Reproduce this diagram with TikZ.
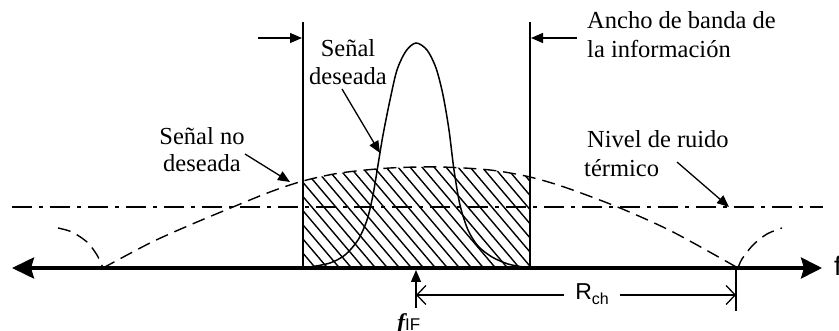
\documentclass[tikz,border=0pt]{standalone}
\usepackage{fontspec}
\setmainfont{Liberation Serif}
\setsansfont{Liberation Sans}
\usetikzlibrary{arrows.meta}
\begin{document}
\begin{tikzpicture}[x=1pt,y=-1pt,
  lbl/.style={inner sep=0pt,font=\fontsize{24.5}{28}\selectfont},
  ptr/.style={line width=1.3pt,-{Triangle[length=12pt,width=10pt]}},
  bandline/.style={line width=1.6pt},
  lobe/.style={line width=1.4pt,dash pattern=on 13pt off 7pt},
  noise/.style={line width=1.4pt,dash pattern=on 20pt off 7pt on 4pt off 7pt},
  hatchline/.style={line width=1.4pt},
  signal/.style={line width=1.5pt},
  dimarrow/.style={line width=1.3pt,-{Straight Barb[length=9pt,width=19pt]}},
  axisline/.style={line width=3.5pt,{Stealth[length=22pt,width=21pt,inset=3pt]}-{Stealth[length=21pt,width=21pt,inset=3pt]}},
]
\useasboundingbox (0,0) rectangle (839,331);

% hatched band under the unwanted signal
\begin{scope}
  \clip (303,100) rectangle (530,268);
  \clip plot[smooth] coordinates {(103,268) (150,243) (190,225) (233,207) (270,192) (303,181) (340,173) (390,168) (440,167) (490,170) (530,177) (567,188) (620,208) (673,232) (738,268)} -- cycle;
  \foreach \k in {0,...,30} \draw[hatchline] (200+12*\k,160) -- ++(100,118);
\end{scope}

% unwanted signal (dashed)
\draw[lobe] plot[smooth] coordinates {(103,268) (150,243) (190,225) (233,207) (270,192) (303,181) (340,173) (390,168) (440,167) (490,170) (530,177) (567,188) (620,208) (673,232) (738,268)};
\draw[lobe] plot[smooth] coordinates {(58,228) (72,232) (87,242) (97,255) (103,268)};
\draw[lobe] plot[smooth] coordinates {(738,268) (742,259) (753,245) (767,234) (782,228)};

% thermal noise level
\coordinate (nzL) at (12,207);
\coordinate (nzR) at (823,207);
\draw[noise] (nzL) -- (nzR);

% desired signal
\draw[signal] plot[smooth,tension=0.5] coordinates {(310,267) (330,263) (345,255) (358,240) (367,220) (373,195) (378,165) (383,135) (390,100) (397,70) (406,51) (416,43) (427,50) (436,68) (443,95) (449,130) (454,170) (460,205) (468,230) (478,246) (492,257) (508,264) (523,267)};

% band edges
\coordinate (L1top) at (303,22);
\coordinate (L1bot) at (303,268);
\coordinate (R1top) at (530,22);
\coordinate (R1bot) at (530,268);
\draw[bandline] (L1top) -- (L1bot);
\draw[bandline] (R1top) -- (R1bot);

% frequency axis
\coordinate (axL) at (12,268);
\coordinate (axR) at (822,268);
\draw[axisline] (axL) -- (axR);
\node[inner sep=0pt,anchor=base west] (flab) at (834,276) {\sffamily\fontsize{27}{27}\selectfont f};

% top band arrows
\coordinate (tlA) at (258,38);
\coordinate (tlB) at (302,38);
\coordinate (trA) at (577,38);
\coordinate (trB) at (531,38);
\draw[ptr] (tlA) -- (tlB);
\draw[ptr] (trA) -- (trB);

% labels
\node[lbl,anchor=base] (sd1) at (348,57) {Señal};
\node[lbl,anchor=base] (sd2) at (348,85) {deseada};
\node[lbl,anchor=base west] (ab1) at (587,29) {Ancho de banda de};
\node[lbl,anchor=base west] (ab2) at (587,58) {la información};
\node[lbl,anchor=base west] (nr1) at (587,148) {Nivel de ruido};
\node[lbl,anchor=base west] (nr2) at (584,177) {térmico};
\node[lbl,anchor=base] (nd1) at (202,145) {Señal no};
\node[lbl,anchor=base] (nd2) at (202,172) {deseada};

% label pointers
\coordinate (sdA) at (342,89);
\coordinate (sdB) at (380,153);
\coordinate (ndA) at (245,154);
\coordinate (ndB) at (290,182);
\coordinate (nrA) at (677,162);
\coordinate (nrB) at (729,207);
\draw[ptr] (sdA) -- (sdB);
\draw[ptr] (ndA) -- (ndB);
\draw[ptr] (nrA) -- (nrB);

% f_IF marker
\coordinate (fifB) at (416,308);
\coordinate (fifT) at (416,270);
\draw[ptr] (fifB) -- (fifT);
\node[inner sep=0pt,anchor=base west] (fif) at (397,331) {{\fontsize{24}{24}\selectfont\bfseries\itshape f}{\sffamily\fontsize{17}{17}\selectfont IF}};

% R_ch dimension
\coordinate (dimL) at (416,295);
\coordinate (dimR) at (736,295);
\coordinate (tickT) at (736,268);
\coordinate (tickB) at (736,311);
\draw[line width=1.3pt] (tickT) -- (tickB);
\node[inner xsep=11pt,inner ysep=2pt,anchor=center] (rch) at (592,294) {\sffamily\fontsize{23}{23}\selectfont R\raisebox{-5pt}{\fontsize{16}{16}\selectfont ch}};
\draw[dimarrow] (rch.west |- dimL) -- (dimL);
\draw[dimarrow] (rch.east |- dimR) -- (dimR);
\end{tikzpicture}
\end{document}
